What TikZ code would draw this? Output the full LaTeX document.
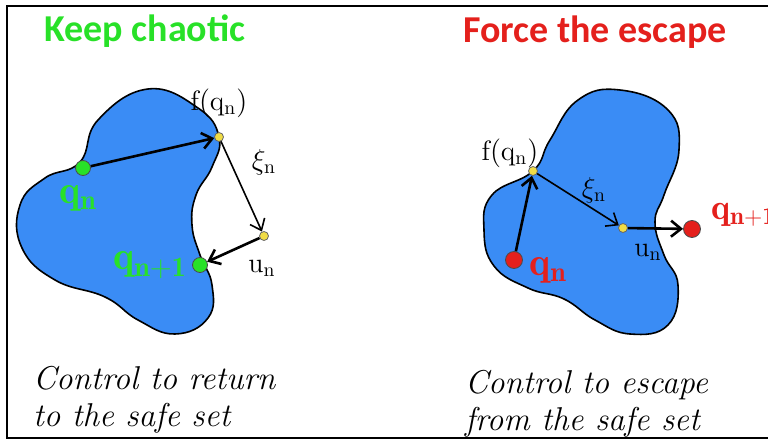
\documentclass[tikz,border=0pt]{standalone}
\usepackage{fontspec}
\newfontfamily\titlefont{Carlito}
\usetikzlibrary{arrows.meta}

\definecolor{setblue}{RGB}{58,140,245}
\definecolor{keepgreen}{RGB}{40,225,40}
\definecolor{escred}{RGB}{228,32,28}
\definecolor{mapyellow}{RGB}{240,220,70}

\begin{document}
\begin{tikzpicture}[x=0.5pt,y=-0.5pt,
    >={Straight Barb[length=5pt,width=8pt]},
    safeset/.style={draw=black,fill=setblue,line width=0.8pt},
    gdot/.style={circle,draw=black!70,fill=keepgreen,inner sep=0pt,minimum size=7.5pt},
    rdot/.style={circle,draw=black!70,fill=escred,inner sep=0pt,minimum size=8.5pt},
    ydot/.style={circle,draw=black!60,fill=mapyellow,inner sep=0pt,minimum size=4.5pt},
    bigarrow/.style={->,line width=1.3pt},
    thinarrow/.style={->,line width=0.8pt},
    lbl/.style={font=\fontsize{14}{16}\selectfont},
    ptlbl/.style={font=\fontsize{20}{22}\selectfont\bfseries},
    heading/.style={font=\fontsize{19}{22}\selectfont\titlefont\bfseries},
    caption/.style={font=\fontsize{16.5}{18.5}\selectfont\itshape,align=left,anchor=west}]
\useasboundingbox (0,0) rectangle (768,443);
\draw[line width=1pt] (768,6) -- (7,6) -- (7,438) -- (768,438);

% keep chaotic
\node[heading,text=keepgreen] (keep) at (145,31) {Keep chaotic};
\draw[safeset] plot[smooth cycle,tension=0.75] coordinates {(148,89) (198,108) (219,137)
  (212,167) (196,195) (192,225) (200,255) (212,285) (208,318) (175,334)
  (138,320) (105,297) (55,280) (22,248) (20,205) (45,178) (80,162) (98,120)};
\node[gdot] (qa) at (83,168) {};
\node[ydot] (fa) at (219,137) {};
\node[ydot] (ua) at (264,236) {};
\node[gdot] (qa1) at (200,265) {};
\draw[bigarrow] (qa) -- (fa);
\draw[thinarrow] (fa) -- (ua);
\draw[bigarrow] (ua) -- (qa1);
\node[lbl] (fqa) at (219,103) {$\mathrm{f}(\mathrm{q}_\mathrm{n})$};
\node[lbl] (xia) at (264,162) {$\xi_\mathrm{n}$};
\node[lbl] (una) at (262,268) {$\mathrm{u}_\mathrm{n}$};
\node[ptlbl,text=keepgreen] (qna) at (78,198) {$\mathbf{q}_\mathbf{n}$};
\node[ptlbl,text=keepgreen] (qna1) at (150,265) {$\mathbf{q}_\mathbf{n+1}$};
\node[caption] (capa) at (26,400) {Control to return\\to the safe set};

% force the escape
\node[heading,text=escred] (force) at (595,32) {Force the escape};
\draw[safeset] plot[smooth cycle,tension=0.75] coordinates {(620,90) (668,110) (679,150)
  (664,195) (655,222) (664,255) (678,285) (668,325) (630,334) (595,320)
  (564,299) (528,288) (494,266) (484,230) (492,195) (533,171) (550,140)
  (578,100)};
\node[rdot] (qb) at (514,260) {};
\node[ydot] (fb) at (533,171) {};
\node[ydot] (ub) at (623,228) {};
\node[rdot] (qb1) at (692,229) {};
\draw[bigarrow] (qb) -- (fb);
\draw[thinarrow] (fb) -- (ub);
\draw[bigarrow] (ub) -- (qb1);
\node[lbl] (fqb) at (510,153) {$\mathrm{f}(\mathrm{q}_\mathrm{n})$};
\node[lbl] (xib) at (594,190) {$\xi_\mathrm{n}$};
\node[lbl] (unb) at (648,252) {$\mathrm{u}_\mathrm{n}$};
\node[ptlbl,text=escred] (qnb) at (548,270) {$\mathbf{q}_\mathbf{n}$};
\node[ptlbl,text=escred,anchor=west,font=\fontsize{18}{20}\selectfont\bfseries] (qnb1) at (704,215) {$\mathbf{q}_\mathbf{n+1}$};
\node[caption] (capb) at (458,404) {Control to escape\\from the safe set};
\end{tikzpicture}
\end{document}
